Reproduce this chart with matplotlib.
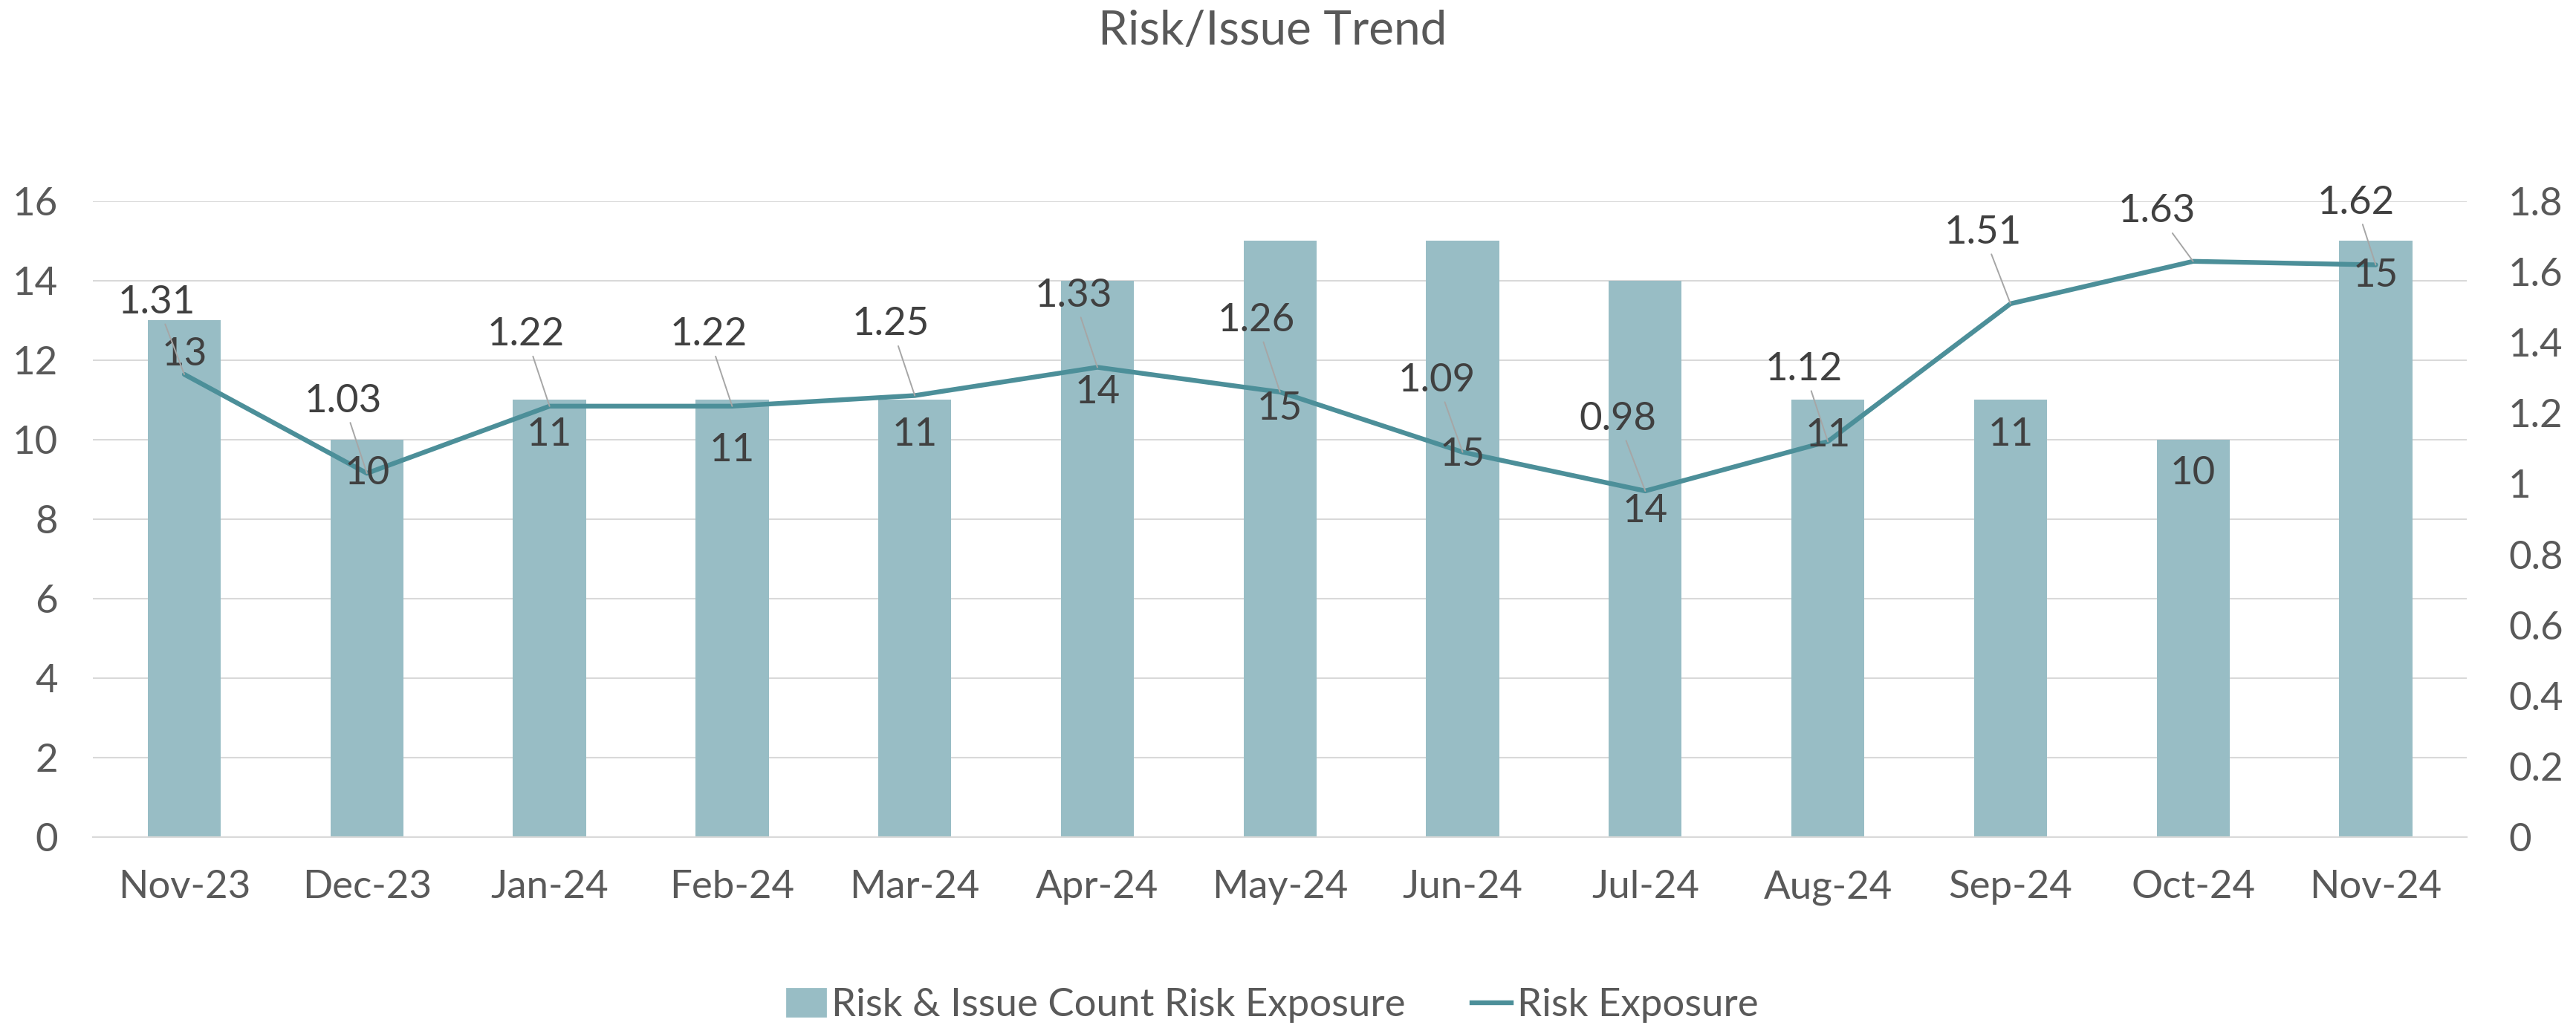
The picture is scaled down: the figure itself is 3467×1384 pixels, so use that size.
import matplotlib
matplotlib.use('Agg')
import matplotlib.pyplot as plt
from matplotlib.patches import Patch
from matplotlib.lines import Line2D

plt.rcParams['font.family'] = ['Lato', 'DejaVu Sans']

# data
months = ['Nov-23', 'Dec-23', 'Jan-24', 'Feb-24', 'Mar-24', 'Apr-24', 'May-24',
          'Jun-24', 'Jul-24', 'Aug-24', 'Sep-24', 'Oct-24', 'Nov-24']
issue_count = [13, 10, 11, 11, 11, 14, 15, 15, 14, 11, 11, 10, 15]
risk_exposure = [1.31, 1.03, 1.22, 1.22, 1.25, 1.33, 1.26, 1.09, 0.98, 1.12, 1.51, 1.63, 1.62]

# where the (hand-moved) data labels sit, in left-axis units
count_label_y = [12.14, 9.14, 10.13, 9.72, 10.13, 11.18, 10.77, 9.62, 8.19, 10.11, 10.13, 9.14, 14.13]
exposure_label_y = [13.45, 10.97, 12.64, 12.64, 12.9, 13.62, 13.0, 11.49, 10.52, 11.77, 15.21, 15.74, 15.96]
exposure_label_dx = [-0.15, -0.13, -0.13, -0.13, -0.13, -0.13, -0.13, -0.14, -0.15, -0.13, -0.15, -0.2, -0.11]

bar_col = '#98BDC5'
line_col = '#4C8F99'
grid_col = '#D9D9D9'
txt_col = '#404040'
tick_col = '#595959'
fs = 19

fig = plt.figure(figsize=(17.335, 6.92), dpi=200)
ax = fig.add_axes([0.0361, 0.1857, 0.9216, 0.6185])
ax2 = ax.twinx()

x = list(range(len(months)))
ax.bar(x, issue_count, width=0.4, color=bar_col, zorder=2)
ax2.plot(x, risk_exposure, color=line_col, lw=2.3, solid_capstyle='round', zorder=3)

ax.set_xlim(-0.5, len(months) - 0.5)
ax.set_ylim(0, 16)
ax.set_yticks(range(0, 17, 2))
ax2.set_ylim(0, 1.8)
ax2.set_yticks([i / 10 for i in range(0, 19, 2)])
ax2.set_yticklabels(['0', '0.2', '0.4', '0.6', '0.8', '1', '1.2', '1.4', '1.6', '1.8'])

ax.set_xticks(x)
ax.set_xticklabels(months)
ax.grid(axis='y', color=grid_col, lw=0.75, zorder=0)
ax.set_axisbelow(True)

for a in (ax, ax2):
    for s in ('top', 'left', 'right'):
        a.spines[s].set_visible(False)
    a.spines['bottom'].set_color(grid_col)
    a.spines['bottom'].set_linewidth(0.75)
ax.tick_params(axis='both', length=0, labelsize=fs, labelcolor=tick_col)
ax.tick_params(axis='x', pad=16)
ax.tick_params(axis='y', pad=17)
ax2.tick_params(axis='y', length=0, labelsize=fs, labelcolor=tick_col, pad=20)

# data labels on the front axes, above the line
for i in x:
    ax2.text(i, count_label_y[i], str(issue_count[i]), transform=ax.transData,
             ha='center', va='center', fontsize=fs, color=txt_col, zorder=5)
    ax2.annotate('{:.2f}'.format(risk_exposure[i]),
                 xy=(i, risk_exposure[i]), xycoords='data',
                 xytext=(i + exposure_label_dx[i], exposure_label_y[i]), textcoords=ax.transData,
                 ha='center', va='center', fontsize=fs, color=txt_col, zorder=5,
                 arrowprops=dict(arrowstyle='-', color='#A6A6A6', lw=0.7,
                                 shrinkA=0, shrinkB=0))

fig.text(0.494, 0.970, 'Risk/Issue Trend', ha='center', va='center',
         fontsize=23, color=tick_col)

handles = [Patch(color=bar_col), Line2D([0], [0], color=line_col, lw=2.3)]
fig.legend(handles, ['Risk & Issue Count Risk Exposure', 'Risk Exposure'],
           loc='center', bbox_to_anchor=(0.494, 0.022), ncol=2, frameon=False,
           fontsize=fs, labelcolor=tick_col, handlelength=1.0,
           handletextpad=0.15, columnspacing=1.7)

fig.savefig('out.png', dpi=200)
